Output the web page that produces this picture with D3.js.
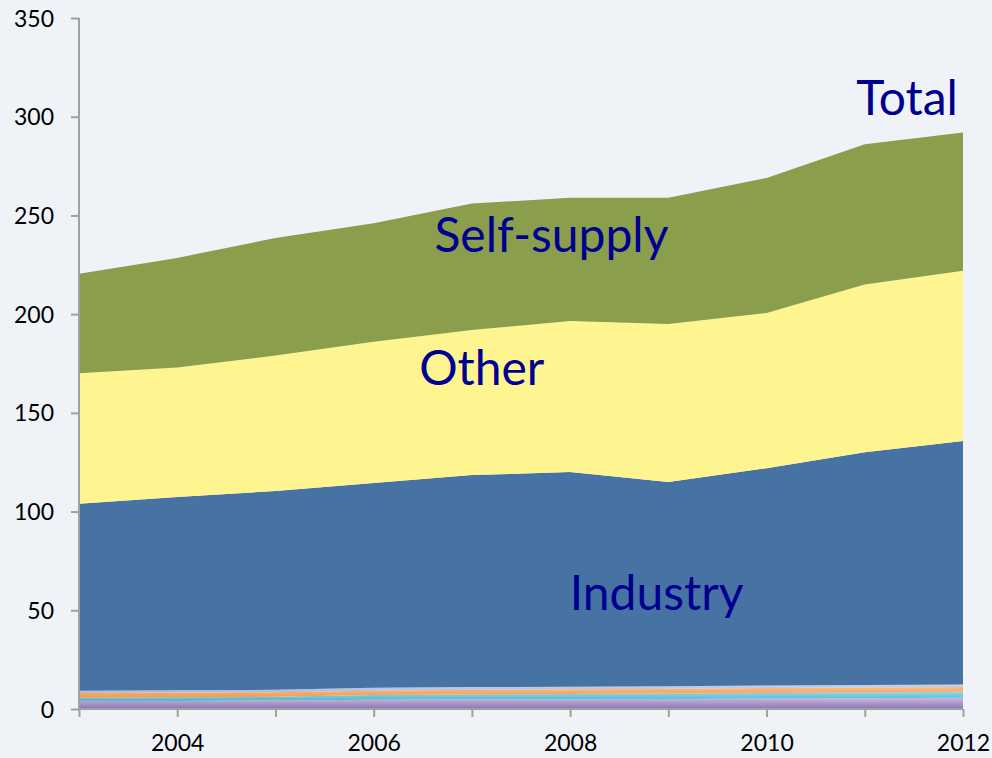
<!DOCTYPE html>
<html lang="en">
<head>
    <meta charset="UTF-8">
    <title>Water use</title>
    <style>
        body{margin:0;background:#eff3f8;}
        text{font-family:Lato,"Open Sans",sans-serif;}
        .tick text{font-size:23px;fill:#000;}
        .label{fill:#000090;font-size:48px;}
    </style>
    <script src="https://cdn.jsdelivr.net/npm/d3@7"></script>
</head>
<body>
<svg width="992" height="758"></svg>
<script>
    var years = [2003, 2004, 2005, 2006, 2007, 2008, 2009, 2010, 2011, 2012];
    // stacked from the bottom up
    var purple     = [4.0, 4.1, 4.3, 4.7, 4.9, 5.0, 5.1, 5.3, 5.5, 5.7];
    var aqua       = [1.7, 1.8, 1.9, 2.4, 2.5, 2.6, 2.7, 2.8, 2.9, 3.0];
    var orange     = [2.4, 2.4, 2.3, 2.2, 2.3, 2.4, 2.4, 2.5, 2.5, 2.5];
    var lavender   = [1.2, 1.2, 1.2, 1.5, 1.4, 1.3, 1.3, 1.3, 1.2, 1.2];
    var industry   = [94.7, 97.9, 100.7, 103.7, 107.4, 108.7, 103.5, 110.1, 117.9, 123.3];
    var other      = [66, 65.6, 68.6, 71.5, 73.5, 76.5, 80, 78.6, 85, 86.3];
    var selfSupply = [50.4, 55.5, 59.6, 60, 64, 62.5, 64, 68.4, 71, 70];
    var yTicks = [0, 50, 100, 150, 200, 250, 300, 350];
    var xLabels = [2004, 2006, 2008, 2010, 2012];

    var keys = ["purple", "aqua", "orange", "lavender", "industry", "other", "selfSupply"];
    var series = {purple: purple, aqua: aqua, orange: orange, lavender: lavender,
        industry: industry, other: other, selfSupply: selfSupply};
    var rows = years.map(function(y, i){
        var r = {year: y};
        keys.forEach(function(k){ r[k] = series[k][i]; });
        return r;
    });

    var svg = d3.select("svg");
    var plotL = 79, plotR = 963, plotT = 18, plotB = 709;

    var x = d3.scaleLinear().domain([2003, 2012]).range([plotL, plotR]);
    var y = d3.scaleLinear().domain([0, 350]).range([plotB, plotT]);

    // gradients for the thin layers
    var defs = svg.append("defs");
    var grads = {
        purple: ["#c9b9e0", "#8c74ad"],
        aqua: ["#8fd8ea", "#4eb5cf"],
        orange: ["#fcbb82", "#f79a4a"],
        lavender: ["#c7d3ea", "#a9b9dc"]
    };
    Object.keys(grads).forEach(function(k){
        var g = defs.append("linearGradient").attr("id", "g-" + k)
            .attr("x1", 0).attr("y1", 0).attr("x2", 0).attr("y2", 1);
        g.append("stop").attr("offset", "0%").attr("stop-color", grads[k][0]);
        g.append("stop").attr("offset", "100%").attr("stop-color", grads[k][1]);
    });
    var fills = {
        purple: "url(#g-purple)", aqua: "url(#g-aqua)", orange: "url(#g-orange)",
        lavender: "url(#g-lavender)", industry: "#4673a3", other: "#fff590", selfSupply: "#8a9e4c"
    };

    var stack = d3.stack().keys(keys);
    var layers = stack(rows);

    var area = d3.area()
        .x(function(d){ return x(d.data.year); })
        .y0(function(d){ return y(d[0]); })
        .y1(function(d){ return y(d[1]); });

    svg.append("g").selectAll("path")
        .data(layers)
        .enter()
        .append("path")
        .attr("d", area)
        .attr("fill", function(d){ return fills[d.key]; });

    // axes
    var yAxis = svg.append("g")
        .attr("transform", "translate(" + plotL + ",0)")
        .call(d3.axisLeft(y).tickValues(yTicks).tickSize(8).tickPadding(17).tickFormat(d3.format("d")));
    var xAxis = svg.append("g")
        .attr("transform", "translate(0," + plotB + ")")
        .call(d3.axisBottom(x).tickValues(years).tickSize(8).tickPadding(18)
            .tickFormat(function(d){ return xLabels.indexOf(d) >= 0 ? d : ""; }));
    [yAxis, xAxis].forEach(function(a){
        a.select(".domain").attr("stroke", "#a0a0a0").attr("stroke-width", 2);
        a.selectAll(".tick line").attr("stroke", "#a0a0a0").attr("stroke-width", 2);
        a.attr("font-family", null).attr("font-size", null);
    });
    yAxis.selectAll(".tick text").attr("dy", "0.35em");
    xAxis.select(".domain").attr("d", "M" + plotL + ",0H" + plotR);
    yAxis.select(".domain").attr("d", "M0," + plotT + "V" + plotB);

    // series labels
    var labels = [
        {text: "Total", year: 2011.43, value: 301},
        {text: "Self-supply", year: 2007.81, value: 231.5},
        {text: "Other", year: 2007.1, value: 164},
        {text: "Industry", year: 2008.88, value: 50}
    ];
    svg.append("g").selectAll("text")
        .data(labels)
        .enter()
        .append("text")
        .attr("class", "label")
        .attr("text-anchor", "middle")
        .attr("x", function(d){ return x(d.year); })
        .attr("y", function(d){ return y(d.value); })
        .text(function(d){ return d.text; });
</script>
</body>
</html>
